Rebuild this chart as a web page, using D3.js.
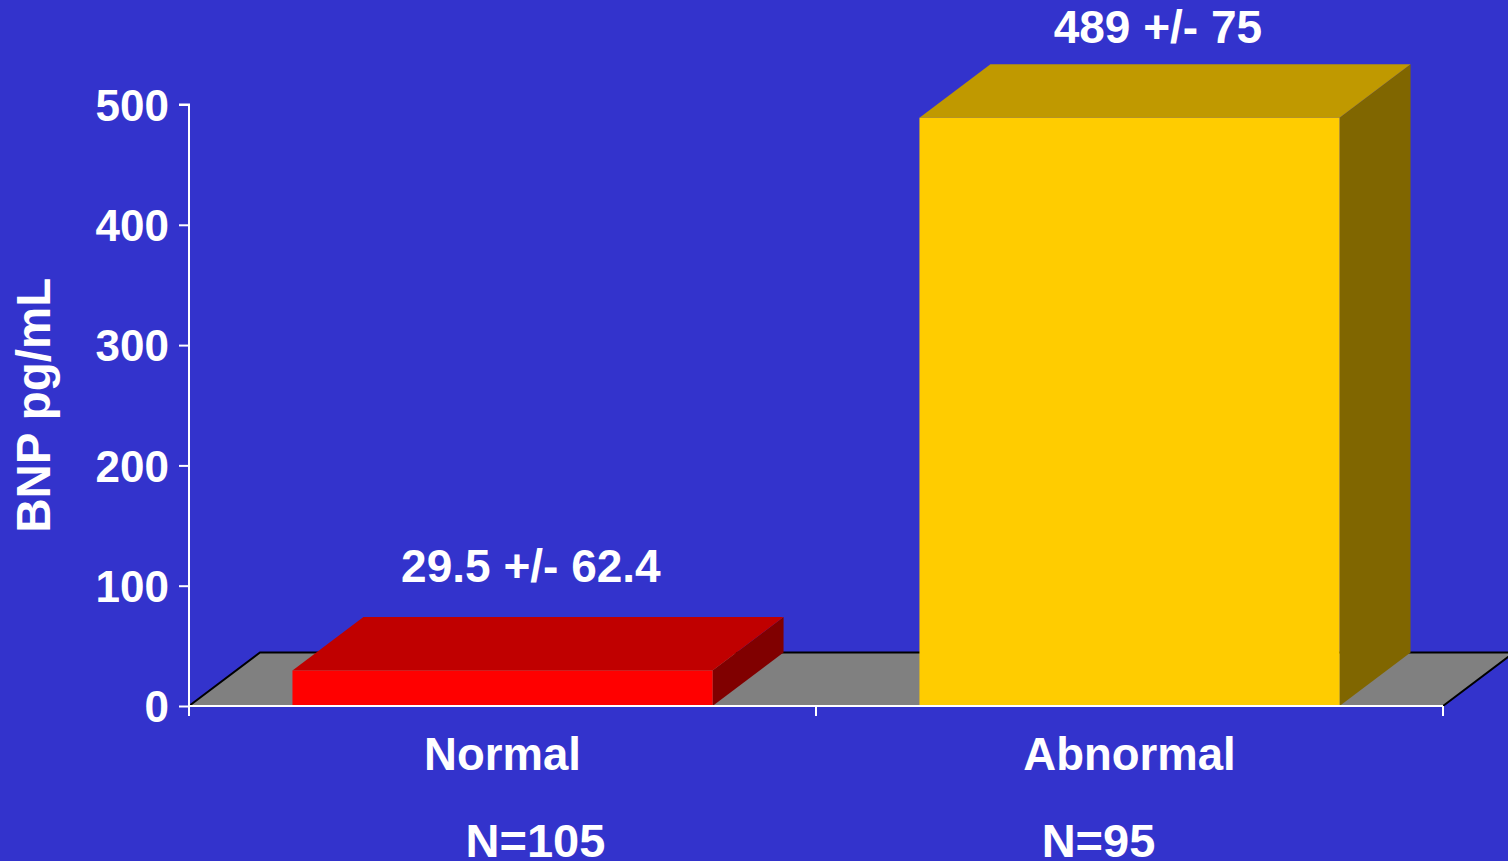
<!DOCTYPE html>
<html>
<head>
<meta charset="utf-8">
<script src="https://cdn.jsdelivr.net/npm/d3@7"></script>
<style>
  html, body { margin: 0; padding: 0; background: #3333CC; }
  svg { display: block; }
  text { font-family: "Liberation Sans", Arial, sans-serif; font-weight: bold; fill: #fff; }
</style>
</head>
<body>
<svg id="chart" width="1508" height="861"></svg>
<script>
// Data
const categories = ["Normal", "Abnormal"];
const means = [29.5, 489];
const valueLabels = ["29.5 +/- 62.4", "489 +/- 75"];
const sampleLabels = ["N=105", "N=95"];
const yTicks = [0, 100, 200, 300, 400, 500];

// Bar face colours: front, top, side
const faceColors = [
  { front: "#FF0000", top: "#C00000", side: "#800000" },
  { front: "#FFCC00", top: "#C09900", side: "#806600" }
];

const W = 1508, H = 861;
const margin = { left: 189, right: 65, top: 104.5, bottom: 155 };
const plotRight = W - margin.right;
const y0 = H - margin.bottom;

const svg = d3.select("#chart");

const x = d3.scaleBand()
  .domain(categories)
  .range([margin.left, plotRight])
  .paddingInner(0.33)
  .paddingOuter(0.165);

const y = d3.scaleLinear()
  .domain([0, 500])
  .range([y0, margin.top]);

// depth of the 3D projection
const dx = 71, dy = -53.5;

// Floor
svg.append("path")
  .attr("d", `M${margin.left},${y0} L${margin.left + dx},${y0 + dy} L${plotRight + dx},${y0 + dy} L${plotRight},${y0} Z`)
  .attr("fill", "#808080");
svg.append("path")
  .attr("d", `M${margin.left},${y0} L${margin.left + dx},${y0 + dy} L${plotRight + dx},${y0 + dy} L${plotRight},${y0}`)
  .attr("fill", "none")
  .attr("stroke", "#000")
  .attr("stroke-width", 2);

// Bars
const bars = svg.append("g").selectAll("g")
  .data(categories.map((c, i) => ({ c, v: means[i], col: faceColors[i] })))
  .join("g");

bars.each(function (d) {
  const g = d3.select(this);
  const x0 = x(d.c), x1 = x(d.c) + x.bandwidth();
  const yt = y(d.v), yb = y(0);
  // side face
  g.append("path")
    .attr("d", `M${x1},${yb} L${x1 + dx},${yb + dy} L${x1 + dx},${yt + dy} L${x1},${yt} Z`)
    .attr("fill", d.col.side);
  // top face
  g.append("path")
    .attr("d", `M${x0},${yt} L${x0 + dx},${yt + dy} L${x1 + dx},${yt + dy} L${x1},${yt} Z`)
    .attr("fill", d.col.top);
  // front face
  g.append("rect")
    .attr("x", x0).attr("y", yt)
    .attr("width", x.bandwidth()).attr("height", yb - yt)
    .attr("fill", d.col.front);
});

// Value labels above bars
svg.append("g").selectAll("text")
  .data(categories.map((c, i) => ({ c, v: means[i], t: valueLabels[i] })))
  .join("text")
  .attr("x", d => x(d.c) + x.bandwidth() / 2 + dx * 0.4)
  .attr("y", (d, i) => y(d.v) + dy - (i === 0 ? 35 : 21))
  .attr("text-anchor", "middle")
  .style("font-size", "46px")
  .text(d => d.t);

// Y axis
const yAxis = svg.append("g")
  .attr("transform", `translate(${margin.left},0)`)
  .call(d3.axisLeft(y).tickValues(yTicks).tickSize(10).tickPadding(10));
yAxis.select(".domain").attr("stroke", "#fff").attr("stroke-width", 2)
  .attr("d", `M-10,${y(500)}H0V${y0 + 10}`);
yAxis.selectAll(".tick line").attr("stroke", "#fff").attr("stroke-width", 2);
yAxis.selectAll(".tick text")
  .attr("fill", "#fff")
  .attr("dy", "0.36em")
  .style("font-size", "44px")
  .style("font-family", '"Liberation Sans", Arial, sans-serif')
  .style("font-weight", "bold");

// X axis line with ticks at band boundaries
const xBounds = [margin.left, (margin.left + plotRight) / 2, plotRight];
svg.append("line")
  .attr("x1", margin.left).attr("x2", plotRight)
  .attr("y1", y0).attr("y2", y0)
  .attr("stroke", "#fff").attr("stroke-width", 2);
svg.append("g").selectAll("line")
  .data(xBounds)
  .join("line")
  .attr("x1", d => d).attr("x2", d => d)
  .attr("y1", y0).attr("y2", y0 + 10)
  .attr("stroke", "#fff").attr("stroke-width", 2);

// Category labels
svg.append("g").selectAll("text")
  .data(categories)
  .join("text")
  .attr("x", d => x(d) + x.bandwidth() / 2)
  .attr("y", y0 + 64)
  .attr("text-anchor", "middle")
  .style("font-size", "45.5px")
  .text(d => d);

// Sample sizes
svg.append("g").selectAll("text")
  .data(categories.map((c, i) => ({ c, t: sampleLabels[i] })))
  .join("text")
  .attr("x", (d, i) => x(d.c) + x.bandwidth() / 2 + (i === 0 ? 33 : -31))
  .attr("y", y0 + 151)
  .attr("text-anchor", "middle")
  .style("font-size", "47px")
  .text(d => d.t);

// Y axis title
svg.append("text")
  .attr("transform", `translate(50,${(y0 + margin.top) / 2}) rotate(-90)`)
  .attr("text-anchor", "middle")
  .style("font-size", "47.5px")
  .text("BNP pg/mL");
</script>
</body>
</html>
